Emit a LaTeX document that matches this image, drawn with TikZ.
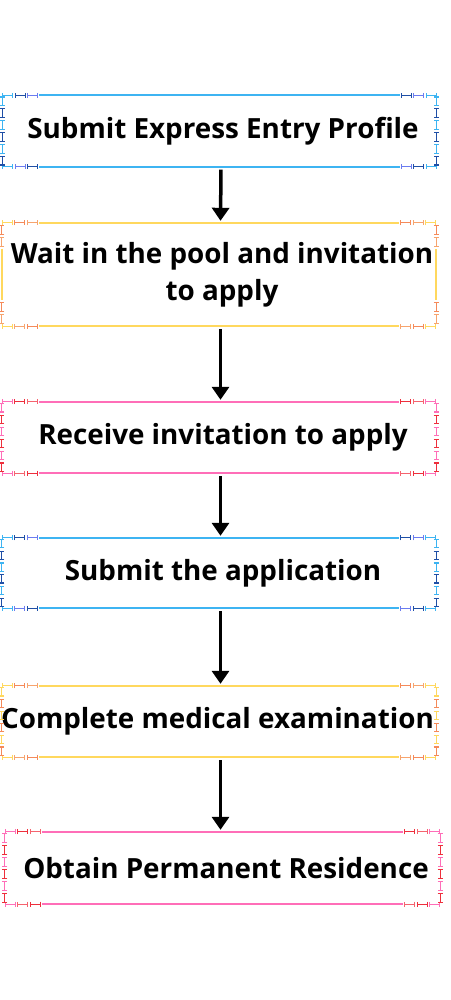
\documentclass[tikz,border=0pt]{standalone}
\usepackage{fontspec}
\setmainfont{Open Sans}[BoldFont={* Bold}]
\usetikzlibrary{arrows.meta,calc}
\definecolor{bmain}{HTML}{3DB4F2}
\definecolor{ba}{HTML}{1F4FA6}
\definecolor{bb}{HTML}{6B7CF0}
\definecolor{ymain}{HTML}{FFD85E}
\definecolor{ya}{HTML}{F58A5A}
\definecolor{yb}{HTML}{F7A46E}
\definecolor{pmain}{HTML}{FF6EB8}
\definecolor{pa}{HTML}{EE2F3C}
\definecolor{pb}{HTML}{F5636E}
\tikzset{
  seg/.style={draw=#1, line width=1.1pt, {Bar[width=5pt,line width=1.1pt]}-{Bar[width=5pt,line width=1.1pt]}},
  mline/.style={draw=#1, line width=1.8pt},
  boxnode/.style={rectangle, inner sep=0pt, minimum width=434pt, align=center,
    font=\fontsize{27.8}{37}\selectfont\bfseries},
  arr/.style={line width=3.5pt, -{Triangle[width=17pt,length=13pt]}, shorten <=3pt, shorten >=2pt}
}
% #1 node, #2 main, #3 acc1, #4 acc2, #5 tall (0/1)
\newcommand\decobox[5]{%
  % top edge
  \draw[seg=#2] (#1.north west) -- ++(11,0);
  \draw[seg=#3] ($(#1.north west)+(12.5,0)$) -- ++(11,0);
  \draw[seg=#4] ($(#1.north west)+(25,0)$) -- ++(11,0);
  \draw[mline=#2] ($(#1.north west)+(37,0)$) -- ($(#1.north east)+(-37,0)$);
  \draw[seg=#3] ($(#1.north east)+(-36,0)$) -- ++(11,0);
  \draw[seg=#4] ($(#1.north east)+(-23.5,0)$) -- ++(11,0);
  \draw[seg=#2] ($(#1.north east)+(-11,0)$) -- ++(11,0);
  % bottom edge
  \draw[seg=#2] (#1.south west) -- ++(11,0);
  \draw[seg=#4] ($(#1.south west)+(12.5,0)$) -- ++(11,0);
  \draw[seg=#3] ($(#1.south west)+(25,0)$) -- ++(11,0);
  \draw[mline=#2] ($(#1.south west)+(37,0)$) -- ($(#1.south east)+(-37,0)$);
  \draw[seg=#4] ($(#1.south east)+(-36,0)$) -- ++(11,0);
  \draw[seg=#3] ($(#1.south east)+(-23.5,0)$) -- ++(11,0);
  \draw[seg=#2] ($(#1.south east)+(-11,0)$) -- ++(11,0);
  % sides
  \foreach \s in {west,east}{
    \ifnum#5=0
      \foreach \i/\c in {0/#2,1/#3,2/#2,3/#3,4/#2,5/#3}{
        \draw[seg=\c] ($(#1.north \s)!{(\i+0.1)/6}!(#1.south \s)$) -- ($(#1.north \s)!{(\i+0.9)/6}!(#1.south \s)$);
      }
    \else
      \draw[seg=#3] ($(#1.north \s)+(0,2)$) -- ($(#1.north \s)+(0,12)$);
      \draw[seg=#4] ($(#1.north \s)+(0,14)$) -- ($(#1.north \s)+(0,24)$);
      \draw[mline=#2] ($(#1.north \s)+(0,26)$) -- ($(#1.south \s)+(0,-26)$);
      \draw[seg=#3] ($(#1.south \s)+(0,-24)$) -- ($(#1.south \s)+(0,-14)$);
      \draw[seg=#4] ($(#1.south \s)+(0,-12)$) -- ($(#1.south \s)+(0,-2)$);
    \fi
  }%
}
\begin{document}
\begin{tikzpicture}[x=1pt,y=-1pt]
\useasboundingbox (0,0) rectangle (450,1000);
\node[boxnode, minimum height=71pt] (b1) at (219.5,131) {\hspace*{7pt}Submit Express Entry Profile};
\node[boxnode, minimum height=103pt] (b2) at (219,274.5) {\hspace*{6pt}Wait in the pool and invitation\\\hspace*{6pt}to apply};
\node[boxnode, minimum height=71pt] (b3) at (219,437.5) {\hspace*{8pt}Receive invitation to apply};
\node[boxnode, minimum height=70pt] (b4) at (219,573) {\hspace*{8pt}Submit the application};
\node[boxnode, minimum height=71pt] (b5) at (219,721.5) {\hspace*{-3pt}Complete medical examination};
\node[boxnode, minimum height=72pt, minimum width=435pt] (b6) at (222.5,868) {\hspace*{7pt}Obtain Permanent Residence};
\decobox{b1}{bmain}{ba}{bb}{0}
\decobox{b2}{ymain}{ya}{yb}{1}
\decobox{b3}{pmain}{pa}{pb}{0}
\decobox{b4}{bmain}{ba}{bb}{0}
\decobox{b5}{ymain}{ya}{yb}{0}
\decobox{b6}{pmain}{pa}{pb}{0}
\draw[arr] ([xshift=1.5pt]b1.south) -- ([xshift=1.5pt]b2.north);
\draw[arr] ([xshift=1.5pt]b2.south) -- ([xshift=1.5pt]b3.north);
\draw[arr] ([xshift=1.5pt]b3.south) -- ([xshift=1.5pt]b4.north);
\draw[arr] ([xshift=1.5pt]b4.south) -- ([xshift=1.5pt]b5.north);
\draw[arr] ([xshift=1.5pt]b5.south) -- ([xshift=1.5pt]b5.south |- b6.north);
\end{tikzpicture}
\end{document}
